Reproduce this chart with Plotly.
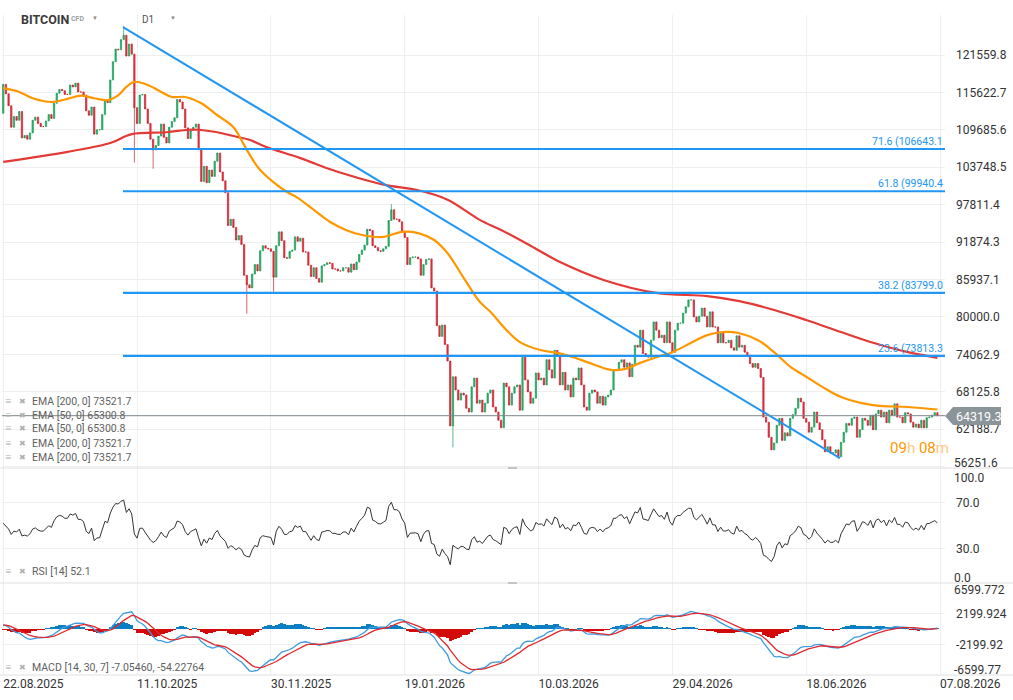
import pandas as pd
import plotly.graph_objects as go
from plotly.subplots import make_subplots

# Daily closes of the BITCOIN CFD (thousands of USD), one per day from 22.08.2025
close_k = [
    116.9, 115.4, 113.5, 110.1, 111.8, 111.2, 112.6, 108.4, 108.8, 108.2,
    109.2, 111.2, 111.7, 110.7, 110.2, 110.2, 111.1, 112.1, 111.5, 113.9,
    115.5, 116.1, 115.9, 115.3, 115.3, 116.8, 116.5, 117.1, 115.7, 115.7,
    115.2, 112.7, 112.0, 113.3, 109.0, 109.7, 109.7, 112.1, 114.4, 114.0,
    117.6, 120.5, 122.5, 122.4, 124.0, 124.7, 121.4, 123.3, 121.7, 113.2,
    110.7, 115.2, 115.3, 113.0, 110.7, 108.2, 106.5, 107.2, 108.7, 110.6,
    108.5, 107.6, 110.1, 111.0, 111.6, 114.5, 114.1, 113.0, 110.0, 108.3,
    109.6, 110.1, 110.6, 106.5, 101.5, 103.9, 101.3, 103.3, 102.3, 104.7,
    106.0, 103.0, 101.6, 99.7, 94.5, 95.5, 94.2, 92.2, 92.9, 91.5,
    86.6, 85.1, 84.6, 86.8, 88.3, 87.3, 90.5, 91.3, 90.9, 90.8,
    90.4, 86.3, 91.3, 93.5, 92.1, 89.4, 89.3, 90.4, 90.6, 92.7,
    92.0, 92.5, 90.3, 90.3, 88.2, 86.4, 87.8, 86.1, 85.5, 88.1,
    88.3, 88.6, 88.5, 87.6, 87.6, 87.3, 87.3, 87.8, 87.8, 87.1,
    88.4, 87.5, 88.7, 89.9, 90.6, 91.4, 93.9, 93.7, 91.3, 91.0,
    90.5, 90.4, 90.8, 91.2, 95.3, 97.0, 95.5, 95.5, 95.1, 93.6,
    92.6, 88.3, 89.4, 89.5, 89.5, 89.2, 86.6, 88.3, 89.1, 89.2,
    84.6, 84.1, 78.6, 76.9, 78.7, 75.6, 73.0, 62.7, 70.5, 68.4,
    66.8, 67.9, 67.6, 65.5, 64.9, 68.9, 70.3, 66.3, 66.8, 64.9,
    66.3, 67.9, 68.4, 65.7, 64.9, 63.6, 62.4, 69.5, 68.9, 66.0,
    67.9, 68.9, 69.2, 65.2, 73.6, 70.0, 68.1, 66.3, 67.1, 71.1,
    70.0, 70.3, 69.2, 73.2, 71.6, 70.3, 74.7, 73.9, 69.2, 71.2,
    68.4, 69.2, 67.3, 70.3, 70.0, 71.9, 69.2, 65.7, 65.2, 67.9,
    68.4, 68.1, 66.3, 67.4, 66.0, 67.3, 67.6, 68.4, 71.6, 71.6,
    72.8, 73.2, 72.0, 72.7, 70.5, 72.5, 75.5, 75.2, 77.9, 74.2,
    73.9, 73.6, 76.3, 79.2, 77.9, 76.7, 77.1, 75.9, 79.2, 75.9,
    74.4, 77.9, 79.0, 79.0, 80.6, 81.6, 82.7, 82.7, 80.0, 79.2,
    80.1, 81.4, 80.1, 78.4, 80.8, 78.4, 78.4, 75.9, 77.4, 75.9,
    75.9, 76.3, 75.1, 74.7, 77.0, 75.2, 75.5, 74.4, 73.9, 72.6,
    72.0, 72.6, 71.8, 70.4, 64.1, 63.3, 60.9, 58.9, 60.0, 62.8,
    63.9, 60.4, 61.6, 61.1, 63.9, 64.5, 65.5, 67.1, 66.5, 63.9,
    63.3, 61.7, 62.5, 64.9, 63.2, 62.1, 60.5, 58.6, 59.4, 58.4,
    58.4, 58.9, 57.8, 60.1, 61.7, 63.1, 62.8, 63.9, 64.1, 60.9,
    62.1, 63.9, 63.6, 62.8, 64.4, 62.1, 64.6, 65.2, 64.1, 64.9,
    63.2, 65.2, 64.4, 66.2, 64.1, 64.1, 63.2, 64.8, 64.6, 63.3,
    62.5, 63.0, 62.4, 63.6, 62.4, 64.0, 64.1, 64.4, 64.8, 64.3193,
]
first_open_k = 112.3
# long shadows that stick out of the bodies (day index, price in thousands)
wick_day = [45, 49, 56, 91, 101, 145, 168, 312]
wick_k = [126.2, 104.5, 103.5, 80.5, 84.0, 97.9, 59.3, 57.5]

# moving averages (day index, thousands of USD)
ema200_day = [0, 24, 40, 48, 61, 69, 73, 80, 86, 92, 98, 111, 123, 133, 143,
              155, 166, 178, 186, 197, 208, 224, 244, 263, 275, 288, 300,
              313, 325, 338, 349]
ema200_k = [104.6, 106.2, 107.6, 109.0, 109.3, 109.7, 109.7, 109.3, 108.7,
            108.1, 107.0, 105.2, 103.3, 102.0, 100.9, 100.1, 98.6, 95.4,
            93.8, 91.3, 88.7, 85.9, 83.8, 83.3, 82.5, 81.1, 79.5, 77.6,
            75.9, 74.4, 73.5]
ema50_day = [0, 6, 11, 18, 24, 29, 34, 39, 43, 46, 49, 54, 59, 63, 68, 74,
             80, 86, 91, 96, 105, 110, 116, 122, 128, 134, 142, 149, 155, 161,
             166, 172, 178, 182, 188, 193, 201, 207, 213, 219, 227, 232, 238,
             244, 250, 257, 263, 269, 275, 282, 288, 294, 300, 306, 313, 325,
             338, 349]
ema50_k = [116.3, 115.7, 114.7, 114.1, 114.6, 115.1, 114.7, 114.4, 115.2,
           116.5, 117.3, 116.8, 115.7, 114.9, 114.9, 113.9, 112.0, 110.1,
           106.5, 103.3, 100.1, 98.9, 97.0, 95.1, 93.8, 93.0, 92.7, 93.5,
           93.3, 92.2, 90.1, 86.2, 82.4, 80.8, 77.9, 76.0, 74.7, 74.3, 73.6,
           72.7, 71.6, 71.7, 72.7, 73.6, 74.4, 75.9, 77.1, 77.6, 77.4, 76.3,
           74.4, 72.1, 70.5, 68.9, 67.3, 66.0, 65.7, 65.3]

# oscillator start values
macd_fast_start = 115800
macd_slow_start = 115300
macd_signal_start = 600
rsi_gain_start = 1300
rsi_loss_start = 1200

price_ticks = [56251.6, 62188.7, 68125.8, 74062.9, 80000.0, 85937.1,
               91874.3, 97811.4, 103748.5, 109685.6, 115622.7, 121559.8]
date_ticks = ["2025-08-22", "2025-10-11", "2025-11-30", "2026-01-19",
              "2026-03-10", "2026-04-29", "2026-06-18", "2026-08-07"]
date_labels = ["22.08.2025", "11.10.2025", "30.11.2025", "19.01.2026",
               "10.03.2026", "29.04.2026", "18.06.2026", "07.08.2026"]

fib_pct = [71.6, 61.8, 38.2, 23.6]
fib_price = [106643.1, 99940.4, 83799.0, 73813.3]
trend_dates = ["2025-10-05 18:00", "2026-06-30 14:00"]
trend_prices = [126000, 57600]

legend_rows = ["EMA [200, 0] 73521.7", "EMA [50, 0] 65300.8",
               "EMA [50, 0] 65300.8", "EMA [200, 0] 73521.7",
               "EMA [200, 0] 73521.7"]


def ema(values, span, seed):
    a = 2.0 / (span + 1)
    out = []
    prev = seed
    for v in values:
        prev = prev + a * (v - prev)
        out.append(prev)
    return out


# candles
dates = pd.date_range("2025-08-22", periods=len(close_k), freq="D")
close = [c * 1000 for c in close_k]
opn = [first_open_k * 1000] + close[:-1]
high = [max(o, c) for o, c in zip(opn, close)]
low = [min(o, c) for o, c in zip(opn, close)]
for d, w in zip(wick_day, wick_k):
    if w * 1000 > high[d]:
        high[d] = w * 1000
    else:
        low[d] = w * 1000

# oscillators
rsi = []
ag, al = rsi_gain_start, rsi_loss_start
for i, c in enumerate(close):
    if i > 0:
        ch = c - close[i - 1]
        ag = (ag * 13 + max(ch, 0)) / 14
        al = (al * 13 + max(-ch, 0)) / 14
    rsi.append(100 - 100 / (1 + ag / al))

fast = ema(close, 14, macd_fast_start)
slow = ema(close, 30, macd_slow_start)
macd = [f - s for f, s in zip(fast, slow)]
signal = ema(macd, 7, macd_signal_start)
hist = [m - s for m, s in zip(macd, signal)]
hist_colors = ["#0a7fc4" if h >= 0 else "#d20a0a" for h in hist]

fig = make_subplots(rows=3, cols=1, shared_xaxes=True, vertical_spacing=0,
                    row_heights=[453, 115, 92])

fig.add_trace(go.Candlestick(
    x=dates, open=opn, high=high, low=low, close=close,
    increasing=dict(line=dict(color="#1c9a57", width=0.7), fillcolor="#25b86c"),
    decreasing=dict(line=dict(color="#c2222e", width=0.7), fillcolor="#f2323f"),
    showlegend=False), row=1, col=1)
fig.add_trace(go.Scatter(x=dates[ema200_day], y=[v * 1000 for v in ema200_k],
                         mode="lines", line_shape="spline",
                         line=dict(color="#e53935", width=2.2)), row=1, col=1)
fig.add_trace(go.Scatter(x=dates[ema50_day], y=[v * 1000 for v in ema50_k],
                         mode="lines", line_shape="spline",
                         line=dict(color="#ff9800", width=2.2)), row=1, col=1)

fig.add_trace(go.Scatter(x=dates, y=rsi, mode="lines",
                         line=dict(color="#333333", width=1)), row=2, col=1)

fig.add_trace(go.Bar(x=dates, y=hist, marker_color=hist_colors,
                     marker_line_width=0, width=86400000), row=3, col=1)
fig.add_trace(go.Scatter(x=dates, y=macd, mode="lines",
                         line=dict(color="#3d9be0", width=1.3)), row=3, col=1)
fig.add_trace(go.Scatter(x=dates, y=signal, mode="lines",
                         line=dict(color="#e0282e", width=1.3)), row=3, col=1)

W, H = 1013, 700
L, R, T, B = 2, 68, 15, 25
x_range = ["2025-08-21 13:00", "2026-08-08 20:00"]

fig.update_layout(
    width=W, height=H, margin=dict(l=L, r=R, t=T, b=B),
    paper_bgcolor="white", plot_bgcolor="white", showlegend=False,
    hovermode=False, bargap=0,
    font=dict(family="Roboto", size=12, color="#333333"),
)
fig.update_xaxes(range=x_range, tickvals=date_ticks, showgrid=True,
                 gridcolor="#efefef", zeroline=False, showline=False,
                 showticklabels=False, rangeslider_visible=False, ticks="")
fig.update_xaxes(row=3, col=1, showticklabels=True, ticktext=date_labels,
                 ticklabelposition="outside right",
                 tickfont=dict(size=12, color="#333333"))
fig.update_yaxes(side="right", showgrid=True, gridcolor="#efefef",
                 zeroline=False, showline=False, ticks="",
                 tickfont=dict(size=12, color="#333333"), ticklabelstandoff=10)
# lowest price label is drawn separately, a little higher
fig.update_yaxes(row=1, col=1, range=[56020, 127910], tickvals=price_ticks,
                 ticktext=[""] + [f"{v:.1f}" for v in price_ticks[1:]])
fig.update_yaxes(row=2, col=1, range=[0, 100], tickvals=[30, 70],
                 ticktext=["30.0", "70.0"])
fig.update_yaxes(row=3, col=1, range=[-6599.772, 6599.772],
                 tickvals=[-2199.924, 2199.924],
                 ticktext=["-2199.92", "2199.924"])


def px(x):
    return (x - L) / (W - L - R)


def py(y):
    return (H - B - y) / (H - T - B)


def label(x, y, text, size, color, anchor="left"):
    fig.add_annotation(xref="paper", yref="paper", x=px(x), y=py(y),
                       text=text, showarrow=False, xanchor=anchor,
                       yanchor="middle",
                       font=dict(size=size, color=color, family="Roboto"))


# trendline and fibonacci levels
fig.add_shape(type="line", xref="x", yref="y",
              x0=trend_dates[0], y0=trend_prices[0],
              x1=trend_dates[1], y1=trend_prices[1],
              line=dict(color="#2196f3", width=2))
for pct, val in zip(fib_pct, fib_price):
    fig.add_shape(type="line", xref="x", yref="y", x0=trend_dates[0],
                  x1=x_range[1], y0=val, y1=val,
                  line=dict(color="#2196f3", width=2.2))
    fig.add_annotation(xref="paper", yref="y", x=1.0, y=val,
                       text=f"{pct} ({val:.1f}", showarrow=False,
                       xanchor="right", yanchor="bottom", yshift=-1,
                       font=dict(size=10.5, color="#2196f3", family="Roboto"))

# current price line and tag
last_price = close[-1]
fig.add_shape(type="line", xref="paper", yref="y", x0=0, x1=1,
              y0=last_price, y1=last_price,
              line=dict(color="#7d878b", width=1))
fig.add_shape(type="path", xref="paper", yref="paper",
              path=(f"M {px(945)},{py(416)} L {px(953)},{py(407)} "
                    f"L {px(1001)},{py(407)} L {px(1001)},{py(425)} "
                    f"L {px(953)},{py(425)} Z"),
              fillcolor="#8a9499", line=dict(width=0))
label(954, 416, f"{last_price:.1f}", 12.5, "#ffffff")
label(888, 448, "<span style='color:#ff9800'>09</span>"
                "<span style='color:#ffc87f'>h</span> "
                "<span style='color:#ff9800'>08</span>"
                "<span style='color:#ffc87f'>m</span>", 15, "#ff9800")

# panel separators and their drag handles
for yy in [468, 583, 675]:
    fig.add_shape(type="line", xref="paper", yref="paper", x0=px(0),
                  x1=px(W), y0=py(yy), y1=py(yy),
                  line=dict(color="#e0e0e0", width=1))
for yy in [468, 583]:
    fig.add_shape(type="rect", xref="paper", yref="paper", x0=px(508),
                  x1=px(517), y0=py(yy + 1), y1=py(yy - 1),
                  fillcolor="#c4c4c4", line=dict(width=0))

# axis labels kept inside the panels
label(952, 463, f"{price_ticks[0]:.1f}", 12, "#333333")
label(952, 478, "100.0", 12, "#333333")
label(952, 578, "0.0", 12, "#333333")
label(952, 590, "6599.772", 12, "#333333")
label(952, 670, "-6599.77", 12, "#333333")

# header
label(19, 19, "<b>BITCOIN</b>", 12.5, "#3a3a3a")
label(69, 19, "<b>CFD</b>", 7, "#a0a0a0")
label(90, 17, "▼", 6, "#8a8a8a")
label(140, 19, "D1", 10, "#555555")
label(168, 17, "▼", 6, "#8a8a8a")

# indicator legends
for k, txt in enumerate(legend_rows):
    yy = 401 + k * 14
    label(3, yy, "≡", 11, "#b0b0b0")
    label(17, yy, "✖", 8, "#b0b0b0")
    label(30, yy, txt, 10.5, "#5f5f5f")
label(3, 571, "≡", 11, "#b0b0b0")
label(17, 571, "✖", 8, "#b0b0b0")
label(30, 571, "RSI [14] 52.1", 10.5, "#5f5f5f")
label(3, 667, "≡", 11, "#b0b0b0")
label(17, 667, "✖", 8, "#b0b0b0")
label(30, 667, "MACD [14, 30, 7] -7.05460, -54.22764", 10.5, "#5f5f5f")

fig.write_html("out.html", config={"displayModeBar": False},
               post_script="document.body.style.margin='0px';")
